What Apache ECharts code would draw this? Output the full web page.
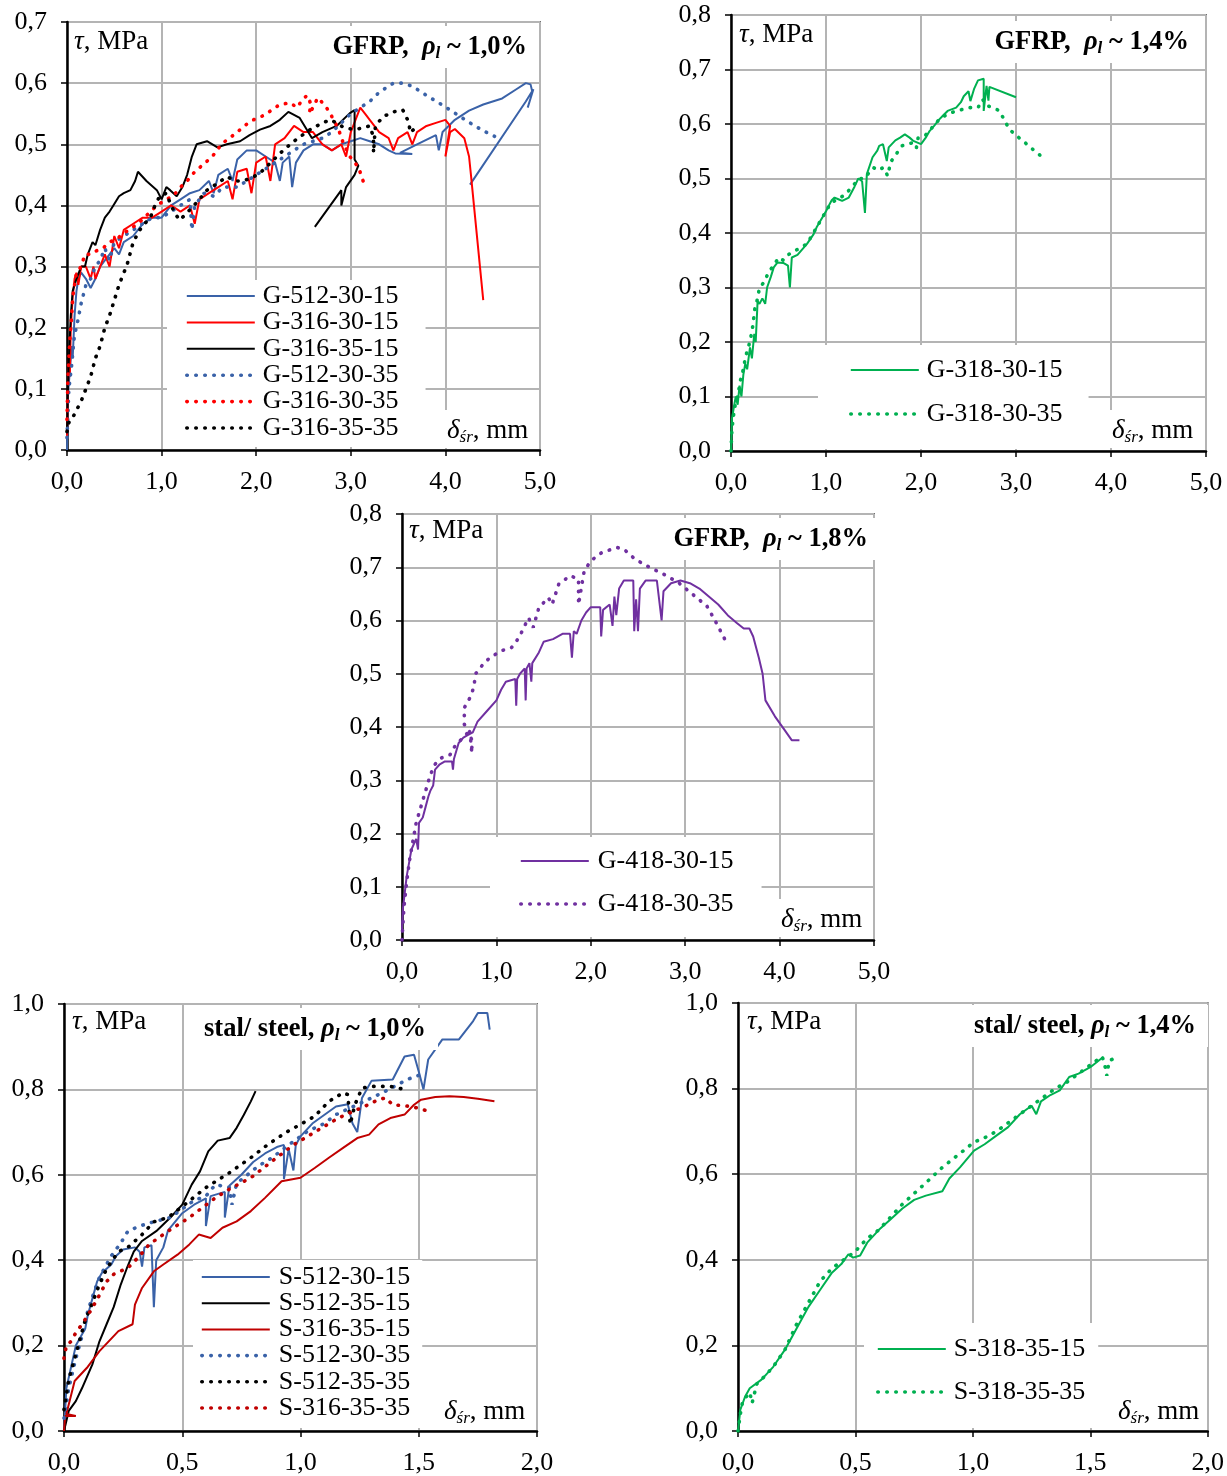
<!DOCTYPE html>
<html>
<head>
<meta charset="utf-8">
<script src="https://cdn.jsdelivr.net/npm/echarts@6/dist/echarts.min.js"></script>
<style>html,body{margin:0;padding:0;background:#fff}#c{width:1227px;height:1476px}</style>
</head>
<body>
<div id="c"></div>
<script>
// ---------- tick labels ----------
const xTicksGFRP = ['0,0','1,0','2,0','3,0','4,0','5,0'];
const yTicksG1 = ['0,0','0,1','0,2','0,3','0,4','0,5','0,6','0,7'];
const yTicksG2 = ['0,0','0,1','0,2','0,3','0,4','0,5','0,6','0,7','0,8'];
const xTicksSteel = ['0,0','0,5','1,0','1,5','2,0'];
const yTicksSteel = ['0,0','0,2','0,4','0,6','0,8','1,0'];

// ---------- panel 1: GFRP rho ~1.0% ----------
const g512_30_15 = [[0,0],[0.01,0.09],[0.03,0.13],[0.05,0.17],[0.06,0.15],[0.08,0.22],[0.1,0.26],[0.12,0.28],[0.15,0.29],[0.2,0.28],[0.25,0.265],[0.3,0.28],[0.35,0.3],[0.4,0.31],[0.45,0.32],[0.5,0.33],[0.55,0.32],[0.6,0.34],[0.7,0.35],[0.8,0.37],[0.9,0.38],[1.0,0.38],[1.1,0.4],[1.2,0.41],[1.3,0.42],[1.4,0.425],[1.5,0.44],[1.55,0.42],[1.6,0.45],[1.7,0.46],[1.75,0.44],[1.8,0.475],[1.9,0.49],[2.0,0.49],[2.1,0.48],[2.2,0.47],[2.25,0.44],[2.28,0.47],[2.35,0.48],[2.38,0.43],[2.42,0.47],[2.5,0.49],[2.6,0.5],[2.7,0.5],[2.8,0.49],[2.9,0.5],[3.0,0.505],[3.1,0.51],[3.2,0.505],[3.3,0.5],[3.4,0.49],[3.47,0.485],[3.65,0.484],[3.52,0.486],[3.7,0.5],[3.9,0.515],[3.93,0.49],[3.97,0.52],[4.1,0.54],[4.25,0.555],[4.4,0.565],[4.6,0.575],[4.75,0.59],[4.85,0.6],[4.9,0.598],[4.92,0.585],[4.87,0.56],[4.93,0.59],[4.85,0.57],[4.26,0.434]];
const g316_30_15 = [[0,0.02],[0.01,0.1],[0.02,0.15],[0.03,0.12],[0.04,0.2],[0.06,0.25],[0.08,0.28],[0.1,0.29],[0.12,0.27],[0.15,0.3],[0.2,0.3],[0.25,0.28],[0.28,0.3],[0.3,0.28],[0.35,0.3],[0.4,0.32],[0.45,0.3],[0.5,0.35],[0.55,0.33],[0.6,0.36],[0.7,0.37],[0.8,0.38],[0.9,0.38],[1.0,0.39],[1.1,0.4],[1.2,0.39],[1.3,0.4],[1.35,0.37],[1.4,0.41],[1.5,0.42],[1.6,0.43],[1.7,0.44],[1.75,0.41],[1.8,0.455],[1.9,0.46],[1.95,0.42],[2.0,0.47],[2.1,0.48],[2.15,0.44],[2.2,0.5],[2.3,0.51],[2.4,0.53],[2.5,0.52],[2.6,0.52],[2.7,0.5],[2.8,0.49],[2.9,0.5],[2.95,0.48],[3.0,0.52],[3.1,0.56],[3.15,0.55],[3.2,0.54],[3.3,0.52],[3.4,0.51],[3.45,0.49],[3.5,0.51],[3.6,0.52],[3.65,0.5],[3.7,0.52],[3.8,0.53],[3.9,0.535],[4.0,0.54],[4.05,0.53],[4.0,0.48],[4.05,0.52],[4.1,0.525],[4.2,0.51],[4.25,0.48],[4.27,0.45],[4.4,0.245]];
const g316_35_15 = [[0,0.03],[0.01,0.1],[0.02,0.15],[0.04,0.22],[0.06,0.26],[0.1,0.28],[0.15,0.3],[0.19,0.3],[0.22,0.32],[0.27,0.34],[0.3,0.335],[0.35,0.36],[0.4,0.38],[0.45,0.39],[0.49,0.4],[0.55,0.415],[0.6,0.42],[0.67,0.425],[0.72,0.44],[0.75,0.455],[0.84,0.44],[0.95,0.425],[1.0,0.41],[1.05,0.43],[1.09,0.425],[1.16,0.415],[1.22,0.43],[1.27,0.45],[1.32,0.48],[1.37,0.5],[1.48,0.505],[1.59,0.495],[1.69,0.5],[1.83,0.505],[1.93,0.515],[2.04,0.524],[2.15,0.53],[2.25,0.54],[2.34,0.553],[2.46,0.543],[2.59,0.51],[2.7,0.52],[2.85,0.53],[2.99,0.551],[3.04,0.556],[3.04,0.475],[3.08,0.465],[3.04,0.45],[2.95,0.43],[2.9,0.4],[2.9,0.425],[2.62,0.365]];
const g512_30_35 = [[0,0.02],[0.02,0.1],[0.05,0.14],[0.08,0.19],[0.1,0.2],[0.15,0.24],[0.2,0.27],[0.25,0.28],[0.3,0.3],[0.35,0.31],[0.4,0.33],[0.45,0.31],[0.5,0.34],[0.6,0.35],[0.7,0.36],[0.8,0.37],[0.9,0.38],[1.0,0.38],[1.1,0.39],[1.2,0.4],[1.3,0.41],[1.32,0.36],[1.35,0.4],[1.45,0.42],[1.55,0.415],[1.65,0.43],[1.8,0.43],[1.9,0.44],[2.0,0.45],[2.1,0.46],[2.2,0.47],[2.3,0.48],[2.4,0.49],[2.5,0.5],[2.6,0.505],[2.7,0.51],[2.8,0.52],[2.9,0.535],[3.0,0.55],[3.1,0.56],[3.2,0.57],[3.3,0.585],[3.45,0.6],[3.55,0.6],[3.65,0.595],[3.8,0.58],[3.99,0.562],[4.13,0.548],[4.26,0.535],[4.4,0.522],[4.52,0.513]];
const g316_30_35 = [[0,0.05],[0.01,0.12],[0.02,0.15],[0.03,0.18],[0.04,0.2],[0.05,0.22],[0.06,0.25],[0.08,0.27],[0.1,0.29],[0.15,0.3],[0.19,0.32],[0.25,0.32],[0.3,0.325],[0.38,0.33],[0.45,0.34],[0.54,0.347],[0.65,0.36],[0.75,0.37],[0.85,0.385],[0.95,0.4],[1.05,0.41],[1.12,0.415],[1.2,0.43],[1.27,0.44],[1.35,0.455],[1.41,0.463],[1.5,0.475],[1.57,0.486],[1.63,0.5],[1.69,0.507],[1.76,0.515],[1.83,0.524],[1.9,0.533],[1.97,0.54],[2.05,0.545],[2.11,0.55],[2.18,0.558],[2.25,0.565],[2.36,0.568],[2.43,0.56],[2.5,0.575],[2.54,0.58],[2.58,0.565],[2.56,0.55],[2.6,0.56],[2.65,0.576],[2.72,0.565],[2.76,0.556],[2.83,0.537],[2.88,0.52],[2.92,0.502],[2.99,0.48],[3.04,0.47],[3.08,0.463],[3.13,0.44]];
const g316_35_35 = [[0,0.03],[0.02,0.045],[0.05,0.05],[0.1,0.065],[0.15,0.08],[0.2,0.1],[0.25,0.12],[0.3,0.15],[0.35,0.17],[0.4,0.2],[0.45,0.22],[0.5,0.245],[0.55,0.27],[0.6,0.29],[0.63,0.3],[0.7,0.34],[0.77,0.36],[0.82,0.37],[0.88,0.38],[0.93,0.4],[0.98,0.415],[1.05,0.42],[1.1,0.4],[1.15,0.385],[1.19,0.376],[1.25,0.385],[1.33,0.398],[1.4,0.41],[1.48,0.425],[1.58,0.435],[1.69,0.447],[1.78,0.44],[1.86,0.44],[1.95,0.445],[2.04,0.453],[2.1,0.462],[2.18,0.474],[2.25,0.485],[2.33,0.496],[2.4,0.505],[2.46,0.512],[2.57,0.524],[2.64,0.53],[2.72,0.536],[2.78,0.54],[2.85,0.535],[2.92,0.528],[3.0,0.525],[3.07,0.525],[3.13,0.527],[3.2,0.53],[3.24,0.512],[3.24,0.486],[3.26,0.53],[3.34,0.545],[3.45,0.553],[3.55,0.556],[3.61,0.537],[3.63,0.519],[3.7,0.53]];

// ---------- panel 2: GFRP rho ~1.4% ----------
const g318_30_15 = [[0,0],[0.01,0.06],[0.03,0.08],[0.05,0.1],[0.07,0.085],[0.09,0.12],[0.11,0.1],[0.13,0.14],[0.15,0.16],[0.17,0.15],[0.2,0.19],[0.22,0.17],[0.245,0.215],[0.26,0.2],[0.28,0.275],[0.3,0.27],[0.33,0.28],[0.36,0.27],[0.38,0.3],[0.42,0.32],[0.45,0.337],[0.49,0.346],[0.55,0.345],[0.6,0.34],[0.62,0.3],[0.64,0.355],[0.7,0.36],[0.75,0.37],[0.8,0.38],[0.87,0.398],[0.9,0.41],[0.94,0.422],[1.0,0.44],[1.02,0.447],[1.06,0.46],[1.09,0.465],[1.13,0.462],[1.17,0.459],[1.24,0.465],[1.3,0.485],[1.34,0.5],[1.38,0.495],[1.41,0.437],[1.43,0.508],[1.49,0.539],[1.54,0.551],[1.56,0.56],[1.6,0.563],[1.62,0.56],[1.64,0.532],[1.66,0.557],[1.73,0.57],[1.78,0.575],[1.83,0.581],[1.88,0.575],[1.92,0.569],[2.0,0.563],[2.05,0.575],[2.09,0.587],[2.14,0.597],[2.19,0.608],[2.24,0.617],[2.28,0.624],[2.37,0.63],[2.42,0.64],[2.45,0.651],[2.5,0.66],[2.52,0.642],[2.56,0.665],[2.6,0.68],[2.66,0.683],[2.66,0.624],[2.69,0.67],[2.71,0.643],[2.72,0.668],[3.0,0.649]];
const g318_30_35 = [[0,0],[0.01,0.04],[0.03,0.07],[0.05,0.09],[0.07,0.1],[0.1,0.13],[0.13,0.15],[0.15,0.17],[0.18,0.19],[0.2,0.2],[0.23,0.23],[0.25,0.26],[0.28,0.28],[0.3,0.3],[0.35,0.31],[0.4,0.33],[0.45,0.34],[0.5,0.355],[0.55,0.35],[0.6,0.36],[0.7,0.37],[0.8,0.38],[0.85,0.395],[0.9,0.41],[0.95,0.425],[1.0,0.44],[1.05,0.455],[1.1,0.46],[1.15,0.465],[1.2,0.47],[1.25,0.48],[1.3,0.49],[1.35,0.5],[1.4,0.5],[1.45,0.51],[1.5,0.52],[1.55,0.515],[1.6,0.52],[1.65,0.505],[1.68,0.53],[1.72,0.54],[1.8,0.56],[1.9,0.565],[1.95,0.555],[1.97,0.575],[2.05,0.58],[2.1,0.59],[2.2,0.61],[2.3,0.62],[2.4,0.625],[2.5,0.63],[2.6,0.63],[2.65,0.645],[2.68,0.635],[2.75,0.63],[2.82,0.625],[2.87,0.61],[2.93,0.59],[3.03,0.575],[3.1,0.565],[3.2,0.55],[3.28,0.539]];

// ---------- panel 3: GFRP rho ~1.8% ----------
const g418_30_15 = [[0,0.02],[0.01,0.06],[0.03,0.09],[0.05,0.12],[0.08,0.15],[0.1,0.17],[0.15,0.19],[0.17,0.17],[0.18,0.22],[0.22,0.23],[0.25,0.25],[0.28,0.27],[0.3,0.28],[0.33,0.29],[0.35,0.32],[0.4,0.33],[0.45,0.335],[0.53,0.335],[0.54,0.32],[0.55,0.34],[0.6,0.37],[0.65,0.38],[0.7,0.385],[0.75,0.39],[0.8,0.41],[0.9,0.43],[1.0,0.45],[1.05,0.47],[1.1,0.485],[1.2,0.49],[1.21,0.44],[1.22,0.49],[1.25,0.5],[1.3,0.51],[1.31,0.45],[1.32,0.51],[1.35,0.52],[1.37,0.485],[1.38,0.52],[1.4,0.52],[1.45,0.54],[1.5,0.56],[1.6,0.565],[1.7,0.575],[1.78,0.575],[1.8,0.53],[1.82,0.58],[1.85,0.575],[1.9,0.6],[1.95,0.615],[2.0,0.625],[2.1,0.625],[2.11,0.57],[2.13,0.62],[2.2,0.63],[2.23,0.59],[2.25,0.645],[2.27,0.61],[2.3,0.66],[2.35,0.675],[2.45,0.675],[2.46,0.58],[2.48,0.64],[2.5,0.58],[2.52,0.66],[2.58,0.675],[2.7,0.675],[2.75,0.6],[2.77,0.655],[2.85,0.67],[2.95,0.675],[3.05,0.67],[3.15,0.66],[3.25,0.645],[3.35,0.63],[3.45,0.61],[3.55,0.595],[3.62,0.585],[3.68,0.585],[3.72,0.57],[3.78,0.53],[3.82,0.5],[3.85,0.45],[3.95,0.42],[4.05,0.395],[4.13,0.375],[4.21,0.375]];
const g418_30_35 = [[0,0],[0.02,0.06],[0.05,0.11],[0.08,0.15],[0.12,0.19],[0.15,0.22],[0.2,0.25],[0.25,0.28],[0.3,0.31],[0.35,0.33],[0.4,0.34],[0.45,0.345],[0.51,0.348],[0.57,0.367],[0.65,0.38],[0.7,0.39],[0.74,0.376],[0.74,0.351],[0.72,0.39],[0.66,0.405],[0.66,0.436],[0.72,0.455],[0.76,0.474],[0.78,0.5],[0.86,0.518],[0.93,0.53],[1.05,0.543],[1.16,0.549],[1.24,0.568],[1.34,0.605],[1.39,0.587],[1.45,0.624],[1.55,0.643],[1.59,0.63],[1.66,0.668],[1.78,0.684],[1.87,0.678],[1.87,0.63],[1.93,0.693],[2.0,0.712],[2.12,0.728],[2.28,0.737],[2.35,0.734],[2.47,0.715],[2.62,0.7],[2.77,0.687],[2.93,0.671],[3.08,0.649],[3.23,0.627],[3.31,0.602],[3.41,0.568],[3.43,0.561]];

// ---------- panel 4: steel rho ~1.0% ----------
const s512_30_15 = [[0,0],[0.01,0.1],[0.03,0.15],[0.05,0.2],[0.07,0.22],[0.09,0.24],[0.1,0.27],[0.12,0.31],[0.14,0.35],[0.16,0.37],[0.2,0.39],[0.22,0.41],[0.25,0.425],[0.3,0.43],[0.32,0.42],[0.33,0.385],[0.34,0.43],[0.37,0.435],[0.38,0.29],[0.39,0.4],[0.42,0.43],[0.44,0.47],[0.5,0.51],[0.55,0.53],[0.6,0.545],[0.6,0.48],[0.62,0.55],[0.68,0.56],[0.68,0.5],[0.7,0.575],[0.75,0.6],[0.8,0.63],[0.85,0.65],[0.9,0.665],[0.93,0.67],[0.93,0.59],[0.95,0.66],[0.97,0.61],[0.98,0.67],[1.0,0.69],[1.05,0.72],[1.1,0.74],[1.15,0.76],[1.2,0.765],[1.22,0.72],[1.24,0.7],[1.26,0.78],[1.3,0.82],[1.39,0.823],[1.44,0.877],[1.48,0.881],[1.5,0.842],[1.52,0.8],[1.54,0.87],[1.6,0.917],[1.67,0.917],[1.73,0.96],[1.75,0.979],[1.79,0.979],[1.8,0.94]];
const s512_35_15 = [[0,0],[0.02,0.047],[0.05,0.07],[0.076,0.1],[0.12,0.156],[0.15,0.21],[0.18,0.25],[0.21,0.29],[0.24,0.343],[0.265,0.38],[0.295,0.42],[0.33,0.445],[0.39,0.468],[0.45,0.5],[0.5,0.53],[0.54,0.577],[0.575,0.608],[0.61,0.655],[0.65,0.68],[0.7,0.686],[0.73,0.71],[0.76,0.74],[0.79,0.772],[0.81,0.796]];
const s316_35_15 = [[0,0],[0.005,0.035],[0.05,0.035],[0.01,0.04],[0.045,0.117],[0.1,0.15],[0.15,0.187],[0.23,0.234],[0.29,0.25],[0.3,0.296],[0.33,0.335],[0.38,0.374],[0.42,0.39],[0.48,0.413],[0.53,0.437],[0.57,0.46],[0.62,0.452],[0.67,0.476],[0.73,0.491],[0.79,0.515],[0.85,0.546],[0.92,0.585],[1.0,0.593],[1.06,0.616],[1.12,0.64],[1.18,0.663],[1.24,0.686],[1.29,0.694],[1.33,0.718],[1.38,0.733],[1.44,0.741],[1.48,0.764],[1.51,0.776],[1.57,0.782],[1.63,0.784],[1.69,0.782],[1.75,0.778],[1.82,0.772]];
const s512_30_35 = [[0,0.03],[0.02,0.1],[0.05,0.17],[0.08,0.23],[0.1,0.28],[0.13,0.33],[0.15,0.36],[0.2,0.41],[0.24,0.44],[0.27,0.468],[0.32,0.48],[0.38,0.49],[0.45,0.5],[0.5,0.52],[0.55,0.54],[0.6,0.55],[0.64,0.577],[0.7,0.57],[0.71,0.53],[0.73,0.58],[0.76,0.593],[0.82,0.62],[0.88,0.64],[0.95,0.67],[1.03,0.702],[1.1,0.72],[1.15,0.741],[1.24,0.764],[1.3,0.78],[1.36,0.796],[1.45,0.823],[1.51,0.835]];
const s512_35_35 = [[0,0.05],[0.02,0.12],[0.045,0.17],[0.07,0.22],[0.09,0.26],[0.12,0.3],[0.14,0.33],[0.18,0.38],[0.23,0.42],[0.27,0.43],[0.33,0.46],[0.38,0.49],[0.44,0.5],[0.51,0.53],[0.6,0.57],[0.7,0.605],[0.79,0.64],[0.86,0.67],[0.94,0.7],[1.0,0.718],[1.06,0.737],[1.12,0.772],[1.18,0.792],[1.2,0.788],[1.21,0.718],[1.23,0.764],[1.26,0.803],[1.3,0.807],[1.38,0.807],[1.44,0.8]];
const s316_35_35 = [[0,0.17],[0.01,0.2],[0.03,0.21],[0.05,0.23],[0.076,0.25],[0.1,0.27],[0.136,0.304],[0.18,0.35],[0.21,0.367],[0.27,0.382],[0.32,0.41],[0.36,0.437],[0.44,0.468],[0.53,0.5],[0.64,0.546],[0.71,0.57],[0.79,0.593],[0.88,0.632],[0.97,0.67],[1.09,0.71],[1.16,0.733],[1.27,0.76],[1.33,0.776],[1.36,0.78],[1.39,0.764],[1.47,0.76],[1.54,0.749]];

// ---------- panel 5: steel rho ~1.4% ----------
const s318_35_15 = [[0,0],[0.01,0.05],[0.03,0.08],[0.05,0.1],[0.1,0.12],[0.15,0.15],[0.2,0.19],[0.25,0.24],[0.3,0.29],[0.35,0.33],[0.4,0.37],[0.44,0.39],[0.47,0.413],[0.49,0.405],[0.52,0.41],[0.55,0.44],[0.6,0.47],[0.65,0.495],[0.7,0.52],[0.75,0.54],[0.8,0.55],[0.87,0.56],[0.9,0.59],[0.945,0.616],[1.005,0.655],[1.05,0.67],[1.1,0.69],[1.15,0.71],[1.2,0.74],[1.25,0.76],[1.27,0.74],[1.29,0.77],[1.33,0.785],[1.37,0.796],[1.41,0.827],[1.45,0.835],[1.5,0.85],[1.555,0.874]];
const s318_35_35 = [[0,0],[0.01,0.04],[0.02,0.07],[0.05,0.09],[0.06,0.065],[0.08,0.11],[0.1,0.12],[0.15,0.15],[0.2,0.19],[0.25,0.25],[0.3,0.3],[0.35,0.35],[0.4,0.38],[0.45,0.4],[0.5,0.42],[0.55,0.45],[0.6,0.47],[0.65,0.5],[0.7,0.53],[0.75,0.555],[0.8,0.58],[0.87,0.616],[0.96,0.655],[1.005,0.675],[1.05,0.685],[1.1,0.7],[1.15,0.72],[1.2,0.74],[1.25,0.76],[1.3,0.78],[1.35,0.8],[1.4,0.815],[1.45,0.835],[1.5,0.855],[1.55,0.875],[1.56,0.86],[1.57,0.83],[1.58,0.865],[1.6,0.87],[1.62,0.88]];

// ---------- styling ----------
const SERIF = 'Liberation Serif';
const BLUE = '#3a62a8', RED = '#ff0000', DRED = '#c00000', BLACK = '#000000', GREEN = '#00b050', PURPLE = '#7030a0';
const SOLID = {width: 2};
const DOT = {width: 3.6, type: [0.5, 8.5], cap: 'round'};

const grids = [
  {left: 67, top: 22, width: 473, height: 428},
  {left: 731, top: 15, width: 475, height: 436},
  {left: 402, top: 514, width: 472, height: 426},
  {left: 64, top: 1004, width: 473, height: 427},
  {left: 738, top: 1003, width: 472, height: 428}
].map(g => Object.assign({show: true, borderColor: '#000', borderWidth: 1.5, backgroundColor: '#fff'}, g));

function xAx(gi, max, interval, ticks) {
  return {type: 'value', gridIndex: gi, min: 0, max: max, interval: interval,
    axisLine: {show: true, onZero: false, lineStyle: {color: '#000', width: 2.5}},
    axisTick: {show: true, length: 6, lineStyle: {color: '#000', width: 1.5}},
    axisLabel: {fontFamily: SERIF, fontSize: 26, color: '#000', margin: 19, formatter: (v, i) => ticks[i]},
    splitLine: {show: true, lineStyle: {color: '#b4b4b4', width: 2}}};
}
function yAx(gi, max, interval, ticks) {
  return {type: 'value', gridIndex: gi, min: 0, max: max, interval: interval,
    axisLine: {show: true, onZero: false, lineStyle: {color: '#000', width: 2.5}},
    axisTick: {show: true, length: 6, lineStyle: {color: '#000', width: 1.5}},
    axisLabel: {fontFamily: SERIF, fontSize: 26, color: '#000', margin: 20, formatter: (v, i) => ticks[i]},
    splitLine: {show: true, lineStyle: {color: '#b4b4b4', width: 2}}};
}

const seriesDefs = [
  ['G-512-30-15', g512_30_15, 0, BLUE, false],
  ['G-316-30-15', g316_30_15, 0, RED, false],
  ['G-316-35-15', g316_35_15, 0, BLACK, false],
  ['G-512-30-35', g512_30_35, 0, BLUE, true],
  ['G-316-30-35', g316_30_35, 0, RED, true],
  ['G-316-35-35', g316_35_35, 0, BLACK, true],
  ['G-318-30-15', g318_30_15, 1, GREEN, false],
  ['G-318-30-35', g318_30_35, 1, GREEN, true],
  ['G-418-30-15', g418_30_15, 2, PURPLE, false],
  ['G-418-30-35', g418_30_35, 2, PURPLE, true],
  ['S-512-30-15', s512_30_15, 3, BLUE, false],
  ['S-512-35-15', s512_35_15, 3, BLACK, false],
  ['S-316-35-15', s316_35_15, 3, DRED, false],
  ['S-512-30-35', s512_30_35, 3, BLUE, true],
  ['S-512-35-35', s512_35_35, 3, BLACK, true],
  ['S-316-35-35', s316_35_35, 3, DRED, true],
  ['S-318-35-15', s318_35_15, 4, GREEN, false],
  ['S-318-35-35', s318_35_35, 4, GREEN, true]
];

const series = seriesDefs.map(([name, data, gi, color, dotted]) => ({
  type: 'line', name: name, data: data, xAxisIndex: gi, yAxisIndex: gi,
  symbol: 'none', showSymbol: false, animation: false, clip: true,
  lineStyle: Object.assign({color: color}, dotted ? DOT : SOLID),
  itemStyle: {color: color}, emphasis: {disabled: true}
}));

function legendItems(gi) {
  return seriesDefs.filter(d => d[2] === gi).map(([name, data, g, color, dotted]) => ({
    name: name,
    lineStyle: Object.assign({color: color}, dotted ? DOT : SOLID),
    itemStyle: {color: color, opacity: 0}
  }));
}
function legend(gi, left, top, padding, itemGap, textPad) {
  return {data: legendItems(gi), orient: 'vertical', left: left, top: top, padding: padding,
    itemGap: itemGap, itemWidth: 68, itemHeight: 12, backgroundColor: '#fff', selectedMode: false,
    textStyle: {fontFamily: SERIF, fontSize: 26, lineHeight: 26, color: '#000', padding: [0, 0, 0, textPad]}};
}

// ---------- text annotations ----------
const R26 = {fontFamily: SERIF, fontSize: 26, color: '#000', lineHeight: 30};
const richBase = {
  n: Object.assign({}, R26, {fontSize: 27}),
  i: Object.assign({}, R26, {fontSize: 27, fontStyle: 'italic'}),
  s: Object.assign({}, R26, {fontStyle: 'italic', fontSize: 17, verticalAlign: 'bottom', lineHeight: 30}),
  b: Object.assign({}, R26, {fontSize: 26.5, fontWeight: 'bold'}),
  bi: Object.assign({}, R26, {fontSize: 26.5, fontWeight: 'bold', fontStyle: 'italic'}),
  bs: Object.assign({}, R26, {fontSize: 17, fontWeight: 'bold', fontStyle: 'italic', verticalAlign: 'bottom', lineHeight: 30})
};
function note(text, pos, padding, bg) {
  return Object.assign({text: text, padding: padding, backgroundColor: bg ? '#fff' : 'transparent', itemGap: 0,
    textStyle: {fontFamily: SERIF, fontSize: 26, fontWeight: 'normal', color: '#000', lineHeight: 30, rich: richBase}}, pos);
}
const TAU = '{i|τ}{n|, MPa}';
const DELTA = '{i|δ}{s|śr}{n|, mm}';
const titles = [
  note(TAU, {left: 74, top: 27}, [0, 0, 0, 0], false),
  note(TAU, {left: 739, top: 20}, [0, 0, 0, 0], false),
  note(TAU, {left: 409, top: 516}, [0, 0, 0, 0], false),
  note(TAU, {left: 72, top: 1007}, [0, 0, 0, 0], false),
  note(TAU, {left: 747, top: 1007}, [0, 0, 0, 0], false),
  note(DELTA, {left: 441, top: 410}, [6, 6, 2, 6], true),
  note(DELTA, {left: 1106, top: 410}, [6, 6, 2, 6], true),
  note(DELTA, {left: 775, top: 899}, [6, 6, 2, 6], true),
  note(DELTA, {left: 438, top: 1391}, [6, 6, 2, 6], true),
  note(DELTA, {left: 1112, top: 1391}, [6, 6, 2, 6], true),
  note('{b|GFRP,  }{bi|ρ}{bs|l}{b| ~ 1,0%}', {right: 688, top: 26}, [6, 12, 6, 12], true),
  note('{b|GFRP,  }{bi|ρ}{bs|l}{b| ~ 1,4%}', {right: 26, top: 21}, [6, 12, 6, 12], true),
  note('{b|GFRP,  }{bi|ρ}{bs|l}{b| ~ 1,8%}', {right: 347, top: 518}, [6, 12, 6, 12], true),
  note('{b|stal/ steel, }{bi|ρ}{bs|l}{b| ~ 1,0%}', {left: 192, top: 1008}, [6, 12, 6, 12], true),
  note('{b|stal/ steel, }{bi|ρ}{bs|l}{b| ~ 1,4%}', {right: 19, top: 1005}, [6, 12, 6, 12], true)
];

const chart = echarts.init(document.getElementById('c'), null, {renderer: 'canvas'});
chart.setOption({
  animation: false,
  backgroundColor: '#fff',
  grid: grids,
  xAxis: [xAx(0, 5, 1, xTicksGFRP), xAx(1, 5, 1, xTicksGFRP), xAx(2, 5, 1, xTicksGFRP), xAx(3, 2, 0.5, xTicksSteel), xAx(4, 2, 0.5, xTicksSteel)],
  yAxis: [yAx(0, 0.7, 0.1, yTicksG1), yAx(1, 0.8, 0.1, yTicksG2), yAx(2, 0.8, 0.1, yTicksG2), yAx(3, 1, 0.2, yTicksSteel), yAx(4, 1, 0.2, yTicksSteel)],
  legend: [
    legend(0, 167, 280, [3, 27, 6, 18], 0.4, 3),
    legend(1, 818, 345, [12, 26, 22, 31], 18, 3),
    legend(2, 490, 837, [11, 28, 20, 29], 17, 4),
    legend(3, 193, 1260, [4, 12, 7, 7], 0.2, 4),
    legend(4, 864, 1323, [13, 13, 23, 12], 17, 3)
  ],
  title: titles,
  series: series
});
</script>
</body>
</html>
